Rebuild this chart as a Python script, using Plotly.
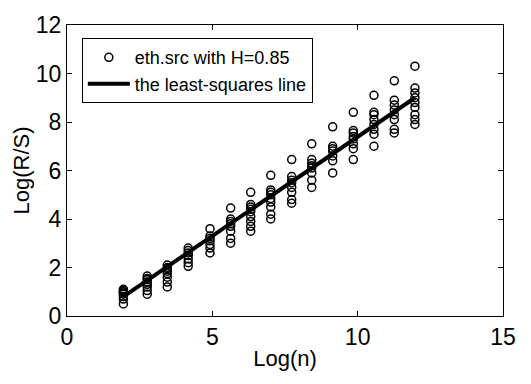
import plotly.graph_objects as go

# group positions (Log(n)) and Log(R/S) values
group_x = [1.94, 2.76, 3.45, 4.17, 4.92, 5.63, 6.32, 7.01, 7.73, 8.42, 9.14, 9.85, 10.56, 11.26, 11.97]
group_y = [
    [0.5, 0.7, 0.8, 0.9, 0.95, 1.0, 1.05, 1.1],
    [0.9, 1.05, 1.2, 1.3, 1.4, 1.5, 1.55, 1.65],
    [1.2, 1.4, 1.6, 1.75, 1.85, 1.95, 2.0, 2.1],
    [2.05, 2.2, 2.35, 2.5, 2.6, 2.7, 2.8],
    [2.6, 2.8, 2.95, 3.1, 3.2, 3.3, 3.6],
    [3.0, 3.2, 3.5, 3.7, 3.8, 3.9, 4.0, 4.45],
    [3.5, 3.7, 3.9, 4.1, 4.3, 4.4, 4.5, 4.6, 5.1],
    [4.0, 4.2, 4.5, 4.7, 4.85, 5.0, 5.1, 5.2, 5.8],
    [4.65, 4.8, 5.1, 5.3, 5.5, 5.6, 5.75, 6.45],
    [5.3, 5.6, 5.9, 6.1, 6.2, 6.3, 6.45, 7.1],
    [5.9, 6.4, 6.6, 6.8, 6.9, 7.0, 7.8],
    [6.45, 6.9, 7.1, 7.3, 7.4, 7.55, 7.65, 8.4],
    [7.0, 7.5, 7.7, 7.9, 8.1, 8.3, 8.4, 9.1],
    [7.55, 7.7, 8.1, 8.3, 8.5, 8.7, 8.9, 9.7],
    [7.9, 8.1, 8.3, 8.6, 8.8, 9.0, 9.2, 9.4, 10.3],
]
# least-squares line end points
line_x = [1.94, 11.97]
line_y = [0.8, 9.0]

xs, ys = [], []
for gx, gys in zip(group_x, group_y):
    for v in gys:
        xs.append(gx)
        ys.append(v)

FONT = "Liberation Sans, Arial, Helvetica"

fig = go.Figure()
fig.add_trace(go.Scatter(
    x=xs, y=ys, mode="markers", name="eth.src with H=0.85",
    marker=dict(symbol="circle-open", size=8, color="black", line=dict(width=1.5, color="black")),
))
fig.add_trace(go.Scatter(
    x=line_x, y=line_y, mode="lines", name="the least-squares line",
    line=dict(color="black", width=4),
))

axis_common = dict(
    showgrid=False, zeroline=False, showline=True, linecolor="black", linewidth=1,
    mirror="ticks", ticks="inside", ticklen=5, tickcolor="black",
    tickfont=dict(family=FONT, size=23, color="black"),
)
fig.update_layout(
    width=531, height=384,
    margin=dict(l=67, r=28, t=18, b=68),
    paper_bgcolor="white", plot_bgcolor="white",
    font=dict(family=FONT, color="black"),
    xaxis=dict(range=[0, 15], tickvals=[0, 5, 10, 15],
               title=dict(text="Log(n)", font=dict(family=FONT, size=22), standoff=2),
               **axis_common),
    yaxis=dict(range=[0, 12], tickvals=[0, 2, 4, 6, 8, 10, 12],
               title=dict(text="Log(R/S)", font=dict(family=FONT, size=22), standoff=0),
               **axis_common),
    legend=dict(x=0.034, y=0.955, xanchor="left", yanchor="top",
                bgcolor="white", bordercolor="black", borderwidth=1,
                font=dict(family=FONT, size=18, color="black"),
                itemwidth=42, tracegroupgap=0),
    showlegend=True,
)

fig.write_html("out.html")
